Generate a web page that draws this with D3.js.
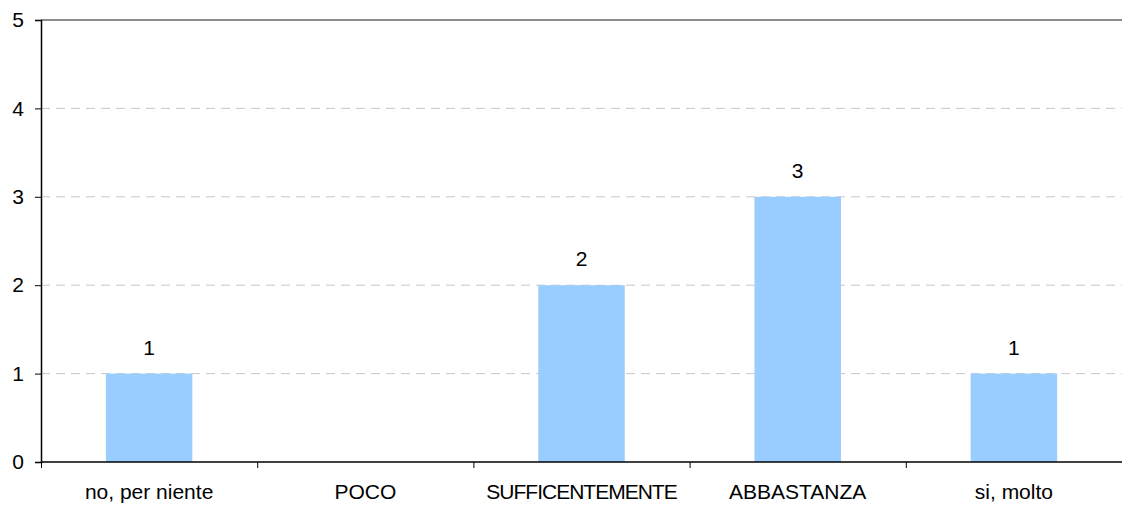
<!DOCTYPE html>
<meta charset="utf-8">
<style>body{margin:0;background:#fff}</style>
<svg width="1122" height="508" font-family="Liberation Sans, Arial, sans-serif" font-size="21"></svg>
<script src="https://cdn.jsdelivr.net/npm/d3@7/dist/d3.min.js"></script>
<script>

var categories = ["no, per niente", "POCO", "SUFFICENTEMENTE", "ABBASTANZA", "si, molto"];
var values = [1, 0, 2, 3, 1];
var yTicks = [0, 1, 2, 3, 4, 5];

var svg = d3.select("svg"),
    plotLeft = 41, plotRight = 1122, plotTop = 20, plotBottom = 462;

var x = d3.scaleBand()
    .domain(categories)
    .range([plotLeft, plotRight])
    .paddingInner(0.6)
    .paddingOuter(0.3);

var y = d3.scaleLinear()
    .domain([0, 5])
    .range([plotBottom, plotTop]);

var data = categories.map(function(c, i) { return {name: c, value: values[i]}; });

// gridlines
svg.append("g")
  .selectAll("line")
  .data(yTicks.filter(function(d) { return d > 0 && d < 5; }))
  .enter().append("line")
    .attr("x1", plotLeft).attr("x2", plotRight)
    .attr("y1", y).attr("y2", y)
    .attr("stroke", "#c8c8c8")
    .attr("stroke-dasharray", "9,6");

// top border
svg.append("line")
    .attr("x1", plotLeft).attr("x2", plotRight)
    .attr("y1", y(5)).attr("y2", y(5))
    .attr("stroke", "#8c8c8c")
    .attr("stroke-width", 2);

// bars
svg.append("g")
  .selectAll("rect")
  .data(data)
  .enter().append("rect")
    .attr("x", function(d) { return x(d.name); })
    .attr("width", x.bandwidth())
    .attr("y", function(d) { return y(d.value); })
    .attr("height", function(d) { return y(0) - y(d.value); })
    .attr("fill", "#99ccff");

// value labels
svg.append("g")
  .selectAll("text")
  .data(data.filter(function(d) { return d.value > 0; }))
  .enter().append("text")
    .attr("x", function(d) { return x(d.name) + x.bandwidth() / 2; })
    .attr("y", function(d) { return y(d.value) - 19; })
    .attr("text-anchor", "middle")
    .text(function(d) { return d.value; });

// y axis
var yAxis = svg.append("g")
    .attr("transform", "translate(" + plotLeft + ",0)")
    .call(d3.axisLeft(y).tickValues(yTicks).tickSize(6).tickPadding(11).tickFormat(d3.format("d")));
yAxis.select(".domain").attr("stroke", "#000").attr("stroke-width", 1.5);
yAxis.selectAll(".tick line").attr("stroke", "#000");
yAxis.selectAll("text").attr("font-size", 21).attr("font-family", "Liberation Sans, Arial, sans-serif").attr("fill", "#000");

// x axis
var step = x.step();
var xAxis = svg.append("g");
xAxis.append("line")
    .attr("x1", plotLeft).attr("x2", plotRight)
    .attr("y1", plotBottom).attr("y2", plotBottom)
    .attr("stroke", "#000").attr("stroke-width", 1.5);
xAxis.selectAll("line.tk")
  .data(d3.range(categories.length))
  .enter().append("line")
    .attr("class", "tk")
    .attr("x1", function(i) { return plotLeft + i * step + 0.5; })
    .attr("x2", function(i) { return plotLeft + i * step + 0.5; })
    .attr("y1", plotBottom).attr("y2", plotBottom + 6)
    .attr("stroke", "#000");
xAxis.selectAll("text")
  .data(categories)
  .enter().append("text")
    .attr("x", function(d) { return x(d) + x.bandwidth() / 2; })
    .attr("y", 499)
    .attr("text-anchor", "middle")
    .attr("letter-spacing", function(d) { return d === "SUFFICENTEMENTE" ? -1 : 0; })
    .text(function(d) { return d; });

</script>
